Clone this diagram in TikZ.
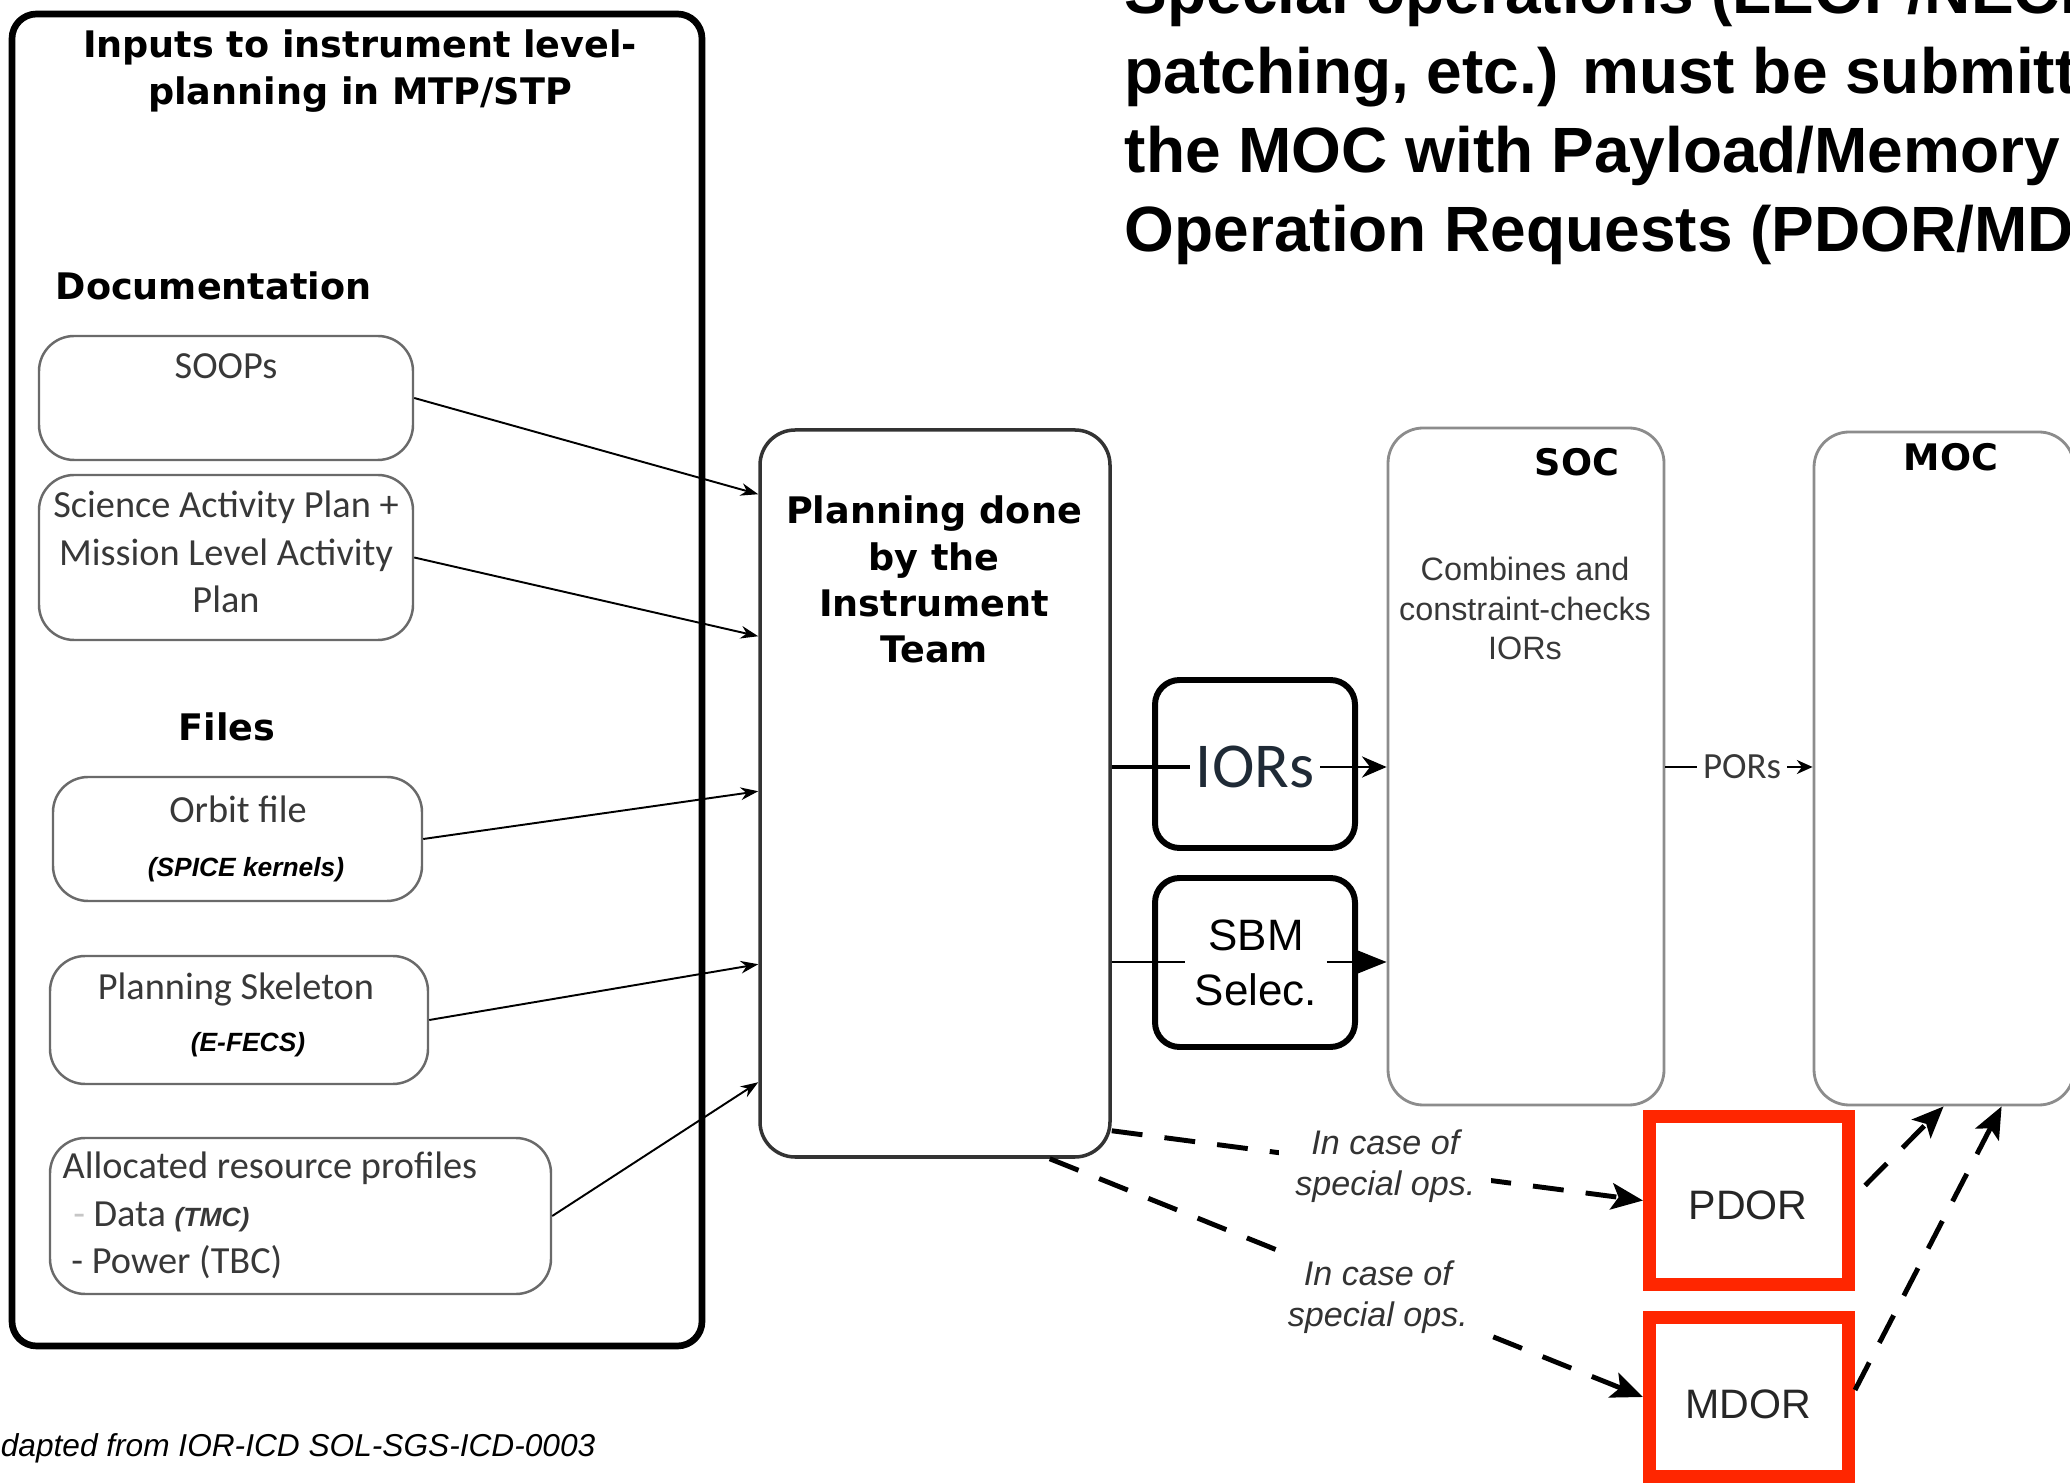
\documentclass[tikz,border=0pt]{standalone}
\usepackage{fontspec}
\usetikzlibrary{arrows.meta,fit,calc}
\newfontfamily\headfont{DejaVu Sans}
\newfontfamily\calfont{Carlito}
\newfontfamily\helvfont{Liberation Sans}
\newcommand{\kfont}{\helvfont\bfseries\itshape\fontsize{7.5}{9}\selectfont}
\newcommand{\mlc}[1]{\begin{tabular}[t]{@{}c@{}}#1\end{tabular}}
\newcommand{\mll}[1]{\begin{tabular}[t]{@{}l@{}}#1\end{tabular}}
\definecolor{txtgray}{HTML}{383838}
\definecolor{boxgray}{HTML}{6A6A6A}
\definecolor{socgray}{HTML}{8C8C8C}
\definecolor{planline}{HTML}{333333}
\definecolor{iorblue}{HTML}{1F2A36}
\definecolor{redframe}{RGB}{255,38,0}
\begin{document}
\begin{tikzpicture}[x=0.01cm,y=-0.01cm,
  heading/.style={font=\headfont\bfseries\fontsize{10.4}{13.1}\selectfont, inner sep=0pt},
  doctext/.style={font=\calfont\fontsize{10.9}{13.4}\selectfont, text=txtgray, inner sep=0pt},
  docbox/.style={draw=boxgray, line width=0.7pt, rounded corners=10pt, inner sep=0pt},
  planbox/.style={draw=planline, line width=1pt, rounded corners=10pt, inner sep=0pt},
  centrebox/.style={draw=socgray, line width=0.8pt, rounded corners=10pt, inner sep=0pt},
  reqbox/.style={draw=black, line width=1.7pt, rounded corners=7pt, inner sep=0pt},
  redbox/.style={draw=redframe, line width=3.7pt, inner sep=0pt},
  redtext/.style={font=\helvfont\fontsize{11.7}{14}\selectfont, text=black!85, inner sep=0pt},
  feed/.style={line width=0.55pt, -{Stealth[length=5pt,width=3.6pt]}},
  special/.style={line width=1.4pt, dash pattern=on 8.8pt off 6.3pt,
    -{Stealth[length=9pt,width=7.5pt,inset=2pt]}},
  caselabel/.style={font=\helvfont\itshape\fontsize{9.7}{11.7}\selectfont,
    text=black!80, fill=white, inner xsep=4.5pt, inner ysep=1pt},
]
\useasboundingbox (0,0) rectangle (2070,1483);

% ---- inputs panel ----
\node[draw, line width=1.9pt, rounded corners=7pt, inner sep=0pt,
  fit={(12,14) (702,1346)}] (inputs) {};
\node[heading, anchor=base] (inputsT) at (360,58)
  {\mlc{Inputs to instrument level-\\planning in MTP/STP}};

\node[heading, anchor=base west] (docT) at (55,300) {Documentation};
\node[docbox, fit={(39,336) (413,460)}] (soops) {};
\node[doctext, anchor=base] (soopsT) at (226,379) {SOOPs};
\node[docbox, fit={(39,475) (413,640)}] (sap) {};
\node[doctext, anchor=base] (sapT) at (226,518)
  {\mlc{Science Activity Plan +\\Mission Level Activity\\Plan}};

\node[heading, anchor=base] (filesT) at (227,741) {Files};
\node[docbox, fit={(53,777) (422,901)}] (orbit) {};
\node[doctext, anchor=base] (orbitT) at (238,823) {Orbit file};
\node[inner sep=0pt, font=\kfont, anchor=base] (orbitK) at (246,877) {(SPICE kernels)};
\node[docbox, fit={(50,956) (428,1084)}] (skel) {};
\node[doctext, anchor=base] (skelT) at (236,1000) {Planning Skeleton};
\node[inner sep=0pt, font=\kfont, anchor=base] (skelK) at (248,1051) {(E-FECS)};
\node[docbox, fit={(50,1138) (551,1294)}] (alloc) {};
\node[doctext, anchor=base west] (allocT) at (62,1179)
  {\mll{Allocated resource profiles\\
   \hspace{3pt}{\color{gray!45}-} Data {\kfont(TMC)}\\
   \hspace{2.5pt}- Power (TBC)}};

% ---- planning, SOC and MOC ----
\node[planbox, fit={(760,430) (1110,1157)}] (plan) {};
\node[heading, anchor=base] (planT) at (934,524)
  {\mlc{Planning done\\by the\\Instrument\\Team}};

\node[centrebox, fit={(1388,428) (1664,1105)}] (soc) {};
\node[heading, anchor=base] (socT) at (1577,476) {SOC};
\node[anchor=base, inner sep=0pt, font=\helvfont\fontsize{9.2}{11.1}\selectfont,
  text=txtgray] (socD) at (1525,581) {\mlc{Combines and\\constraint-checks\\IORs}};

\node[centrebox, fit={(1814,432) (2074,1105)}] (moc) {};
\node[heading, anchor=base] (mocT) at (1951,471) {MOC};

% ---- request boxes ----
\node[reqbox, fit={(1155,680) (1355,848)}] (iorbox) {};
\node[font=\calfont\fontsize{18.2}{22}\selectfont, text=iorblue,
  inner xsep=1.5pt, inner ysep=0pt] (iortxt) at (1255,767) {IORs};
\node[reqbox, fit={(1155,878) (1355,1047)}] (sbmbox) {};
\node[anchor=base, inner xsep=2.6pt, inner ysep=0pt,
  font=\helvfont\fontsize{12.5}{15.6}\selectfont] (sbmtxt) at (1256,951)
  {\mlc{SBM\\Selec.}};
\coordinate (sbmline) at (1256,962);

\node[font=\calfont\fontsize{10.5}{12}\selectfont, text=txtgray,
  inner xsep=1.5pt, inner ysep=0pt] (pors) at (1742,767) {PORs};

\node[redbox, fit={(1649.5,1116.5) (1848.5,1284.5)}] (pdor) {};
\node[redtext, anchor=base] (pdorT) at (1748,1219) {PDOR};
\node[redbox, fit={(1649.5,1317.5) (1848.5,1476.5)}] (mdor) {};
\node[redtext, anchor=base] (mdorT) at (1748,1418) {MDOR};

% ---- note and source ----
\node[anchor=base west, inner sep=0pt,
  font=\helvfont\bfseries\fontsize{18.2}{22.5}\selectfont] (note) at (1124,14)
  {\mll{Special operations (LEOP/NECP,\\patching, etc.) must be submitted to\\
   the MOC with Payload/Memory Direct\\Operation Requests (PDOR/MDOR)}};
\node[anchor=base west, inner sep=0pt, font=\helvfont\itshape\fontsize{9}{11}\selectfont]
  (source) at (-21,1456) {Adapted from IOR-ICD SOL-SGS-ICD-0003};

% ---- inputs into planning ----
\draw[feed] (soops.east) -- ($(plan.north west)+(0,66)$);
\draw[feed] (sap.east) -- ($(plan.north west)+(0,208)$);
\draw[feed] (orbit.east) -- ($(plan.north west)+(0,363)$);
\draw[feed] (skel.east) -- ($(plan.north west)+(0,536)$);
\draw[feed] (alloc.east) -- ($(plan.north west)+(0,654)$);

% ---- regular flow ----
\draw[line width=1.1pt] (plan.east |- iortxt) -- (iortxt.west);
\draw[line width=0.8pt, -{Stealth[length=7pt,width=6pt]}] (iortxt.east) -- (soc.west |- iortxt);
\draw[line width=0.8pt] (plan.east |- sbmline) -- (sbmtxt.west |- sbmline);
\draw[line width=0.8pt, -{Triangle[length=9pt,width=7pt]}] (sbmtxt.east |- sbmline) -- (soc.west |- sbmline);
\draw[line width=0.5pt] (soc.east |- pors) -- (pors.west);
\draw[line width=0.5pt, -{Stealth[length=4.5pt,width=4pt]}] (pors.east) -- (moc.west |- pors);

% ---- special operations ----
\draw[special] ($(plan.south east)+(0,-28)$) --
  node[caselabel, pos=0.515] (case1) {\mlc{In case of\\special ops.}} (pdor.west);
\draw[special] ($(plan.south east)+(-62,0)$) --
  node[caselabel, pos=0.553, yshift=-2pt] (case2) {\mlc{In case of\\special ops.}} (mdor.west);
\draw[special] ($(pdor.east)+(10,-15)$) -- ($(moc.south west)+(131,0)$);
\draw[special] ($(mdor.east)+(0,-7)$) -- ($(moc.south west)+(189,0)$);
\end{tikzpicture}
\end{document}
